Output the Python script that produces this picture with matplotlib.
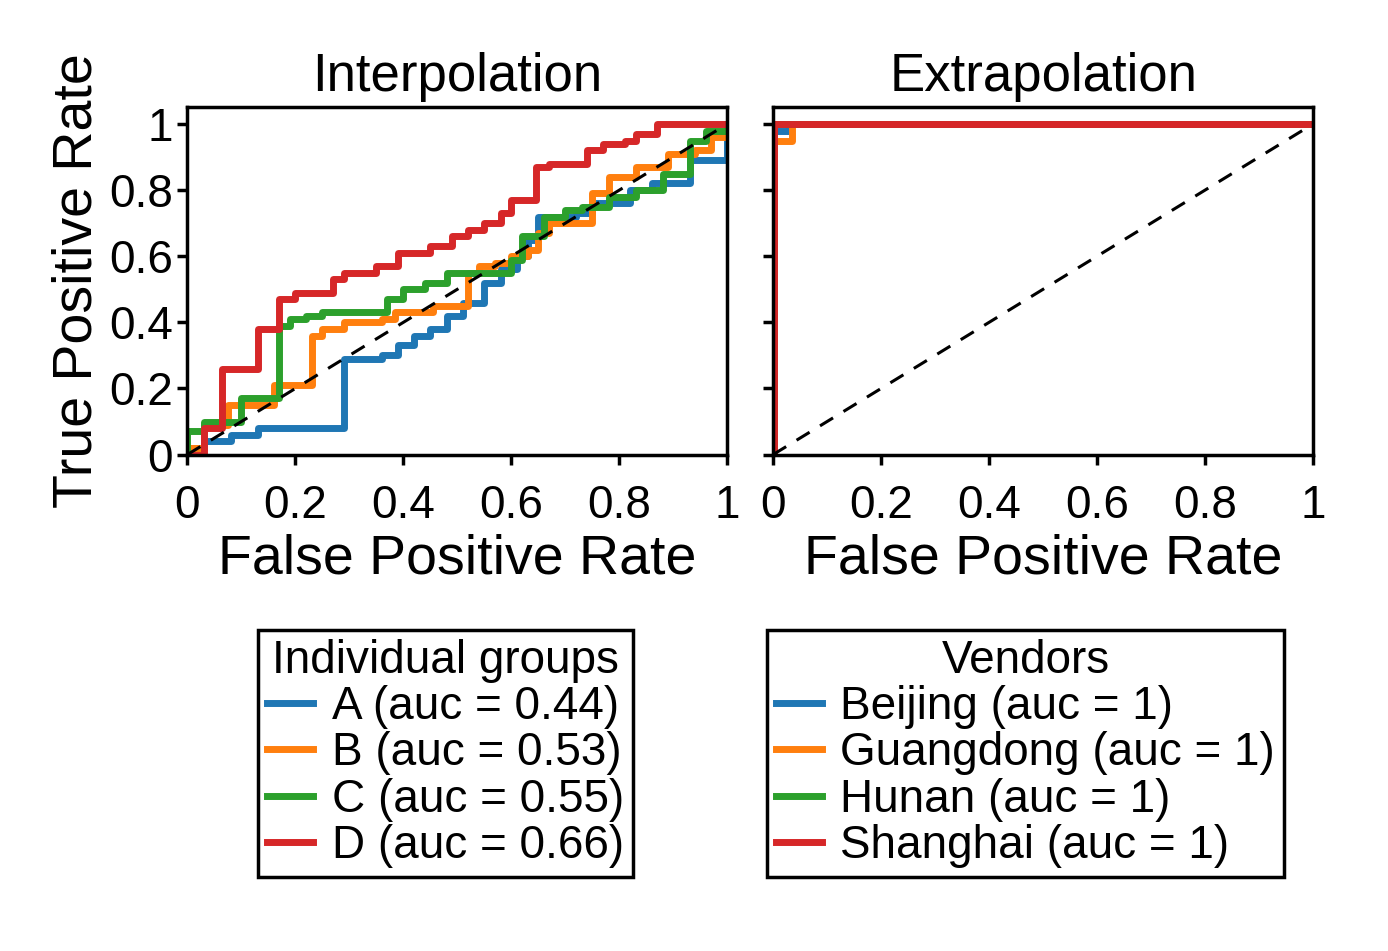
import numpy as np
import matplotlib.pyplot as plt

plt.rcParams['font.family'] = ['Liberation Sans', 'DejaVu Sans']

# Interpolation ROC step curves (fpr where step starts, tpr after step)
a_fpr = [0, 0, 0.03, 0.08, 0.13, 0.29, 0.36, 0.39, 0.42, 0.45, 0.48, 0.51, 0.55, 0.58, 0.61, 0.63, 0.65, 0.72, 0.75, 0.82, 0.86, 0.93, 1.0]
a_tpr = [0, 0.02, 0.04, 0.06, 0.08, 0.29, 0.30, 0.33, 0.36, 0.38, 0.42, 0.46, 0.52, 0.56, 0.60, 0.65, 0.72, 0.73, 0.76, 0.80, 0.82, 0.89, 1.0]
b_fpr = [0, 0, 0.03, 0.076, 0.16, 0.23, 0.25, 0.29, 0.36, 0.385, 0.455, 0.52, 0.54, 0.57, 0.6, 0.63, 0.65, 0.67, 0.75, 0.78, 0.83, 0.89, 0.94, 0.97]
b_tpr = [0, 0.02, 0.09, 0.15, 0.21, 0.36, 0.38, 0.40, 0.41, 0.43, 0.45, 0.55, 0.57, 0.58, 0.60, 0.62, 0.67, 0.70, 0.79, 0.84, 0.87, 0.91, 0.92, 0.96]
c_fpr = [0, 0, 0.03, 0.1, 0.17, 0.19, 0.22, 0.25, 0.37, 0.4, 0.44, 0.48, 0.55, 0.6, 0.62, 0.66, 0.7, 0.73, 0.78, 0.83, 0.88, 0.93, 0.96]
c_tpr = [0, 0.07, 0.10, 0.17, 0.39, 0.41, 0.42, 0.43, 0.47, 0.50, 0.52, 0.55, 0.55, 0.59, 0.66, 0.72, 0.74, 0.75, 0.78, 0.80, 0.85, 0.95, 0.98]
d_fpr = [0, 0.03, 0.065, 0.13, 0.17, 0.2, 0.27, 0.29, 0.35, 0.39, 0.45, 0.49, 0.52, 0.55, 0.58, 0.6, 0.645, 0.67, 0.74, 0.77, 0.81, 0.83, 0.87]
d_tpr = [0, 0.08, 0.26, 0.38, 0.47, 0.49, 0.53, 0.55, 0.57, 0.61, 0.63, 0.66, 0.68, 0.70, 0.73, 0.77, 0.87, 0.88, 0.92, 0.94, 0.95, 0.97, 1.0]

# Extrapolation ROC step curves
be_fpr = [0, 0.002, 0.03]
be_tpr = [0, 0.98, 1.0]
gd_fpr = [0, 0.002, 0.035]
gd_tpr = [0, 0.95, 1.0]
hn_fpr = [0, 0.002]
hn_tpr = [0, 1.0]
sh_fpr = [0, 0.002]
sh_tpr = [0, 1.0]

groups = ['A (auc = 0.44)', 'B (auc = 0.53)', 'C (auc = 0.55)', 'D (auc = 0.66)']
vendors = ['Beijing (auc = 1)', 'Guangdong (auc = 1)', 'Hunan (auc = 1)', 'Shanghai (auc = 1)']
colors = ['#1f77b4', '#ff7f0e', '#2ca02c', '#d62728']

fig = plt.figure(figsize=(13.88, 9.51), dpi=100)
ax1 = fig.add_axes([0.135, 0.522, 0.389, 0.365])
ax2 = fig.add_axes([0.557, 0.522, 0.389, 0.365])


def draw(ax, curves, labels):
    handles = []
    for (fx, ty), lab, c in zip(curves, labels, colors):
        fx = list(fx) + [1.0]
        ty = list(ty) + [ty[-1]]
        h, = ax.step(fx, ty, where='post', color=c, lw=5, label=lab)
        handles.append(h)
    ax.plot([0, 1], [0, 1], 'k--', lw=2.2, dashes=(5, 4))
    ax.set_xlim(0, 1)
    ax.set_ylim(0, 1.05)
    ax.set_xticks([0, 0.2, 0.4, 0.6, 0.8, 1])
    ax.set_xticklabels(['0', '0.2', '0.4', '0.6', '0.8', '1'])
    ax.set_yticks([0, 0.2, 0.4, 0.6, 0.8, 1])
    ax.tick_params(labelsize=33, width=2.5, length=7)
    ax.tick_params(axis='x', pad=14)
    for s in ax.spines.values():
        s.set_linewidth(2.5)
    ax.set_xlabel('False Positive Rate', fontsize=40, labelpad=4)
    return handles


h1 = draw(ax1, [(a_fpr, a_tpr), (b_fpr, b_tpr), (c_fpr, c_tpr), (d_fpr, d_tpr)], groups)
h2 = draw(ax2, [(be_fpr, be_tpr), (gd_fpr, gd_tpr), (hn_fpr, hn_tpr), (sh_fpr, sh_tpr)], vendors)
ax1.set_yticklabels(['0', '0.2', '0.4', '0.6', '0.8', '1'])
ax2.set_yticklabels([])
ax1.set_ylabel('True Positive Rate', fontsize=40, labelpad=4)
ax1.set_title('Interpolation', fontsize=38, pad=12)
ax2.set_title('Extrapolation', fontsize=38, pad=12)

leg_kw = dict(fontsize=33, frameon=True, fancybox=False, edgecolor='black',
              handlelength=1.0, handletextpad=0.4, labelspacing=0.05,
              borderpad=0.2, title_fontsize=33, framealpha=1)
l1 = fig.legend(handles=h1, title='Individual groups', loc='upper center',
                bbox_to_anchor=(0.321, 0.362), **leg_kw)
l2 = fig.legend(handles=h2, title='Vendors', loc='upper center',
                bbox_to_anchor=(0.739, 0.362), **leg_kw)
for l in (l1, l2):
    l.get_frame().set_linewidth(2.5)

fig.savefig('out.png', dpi=100)
